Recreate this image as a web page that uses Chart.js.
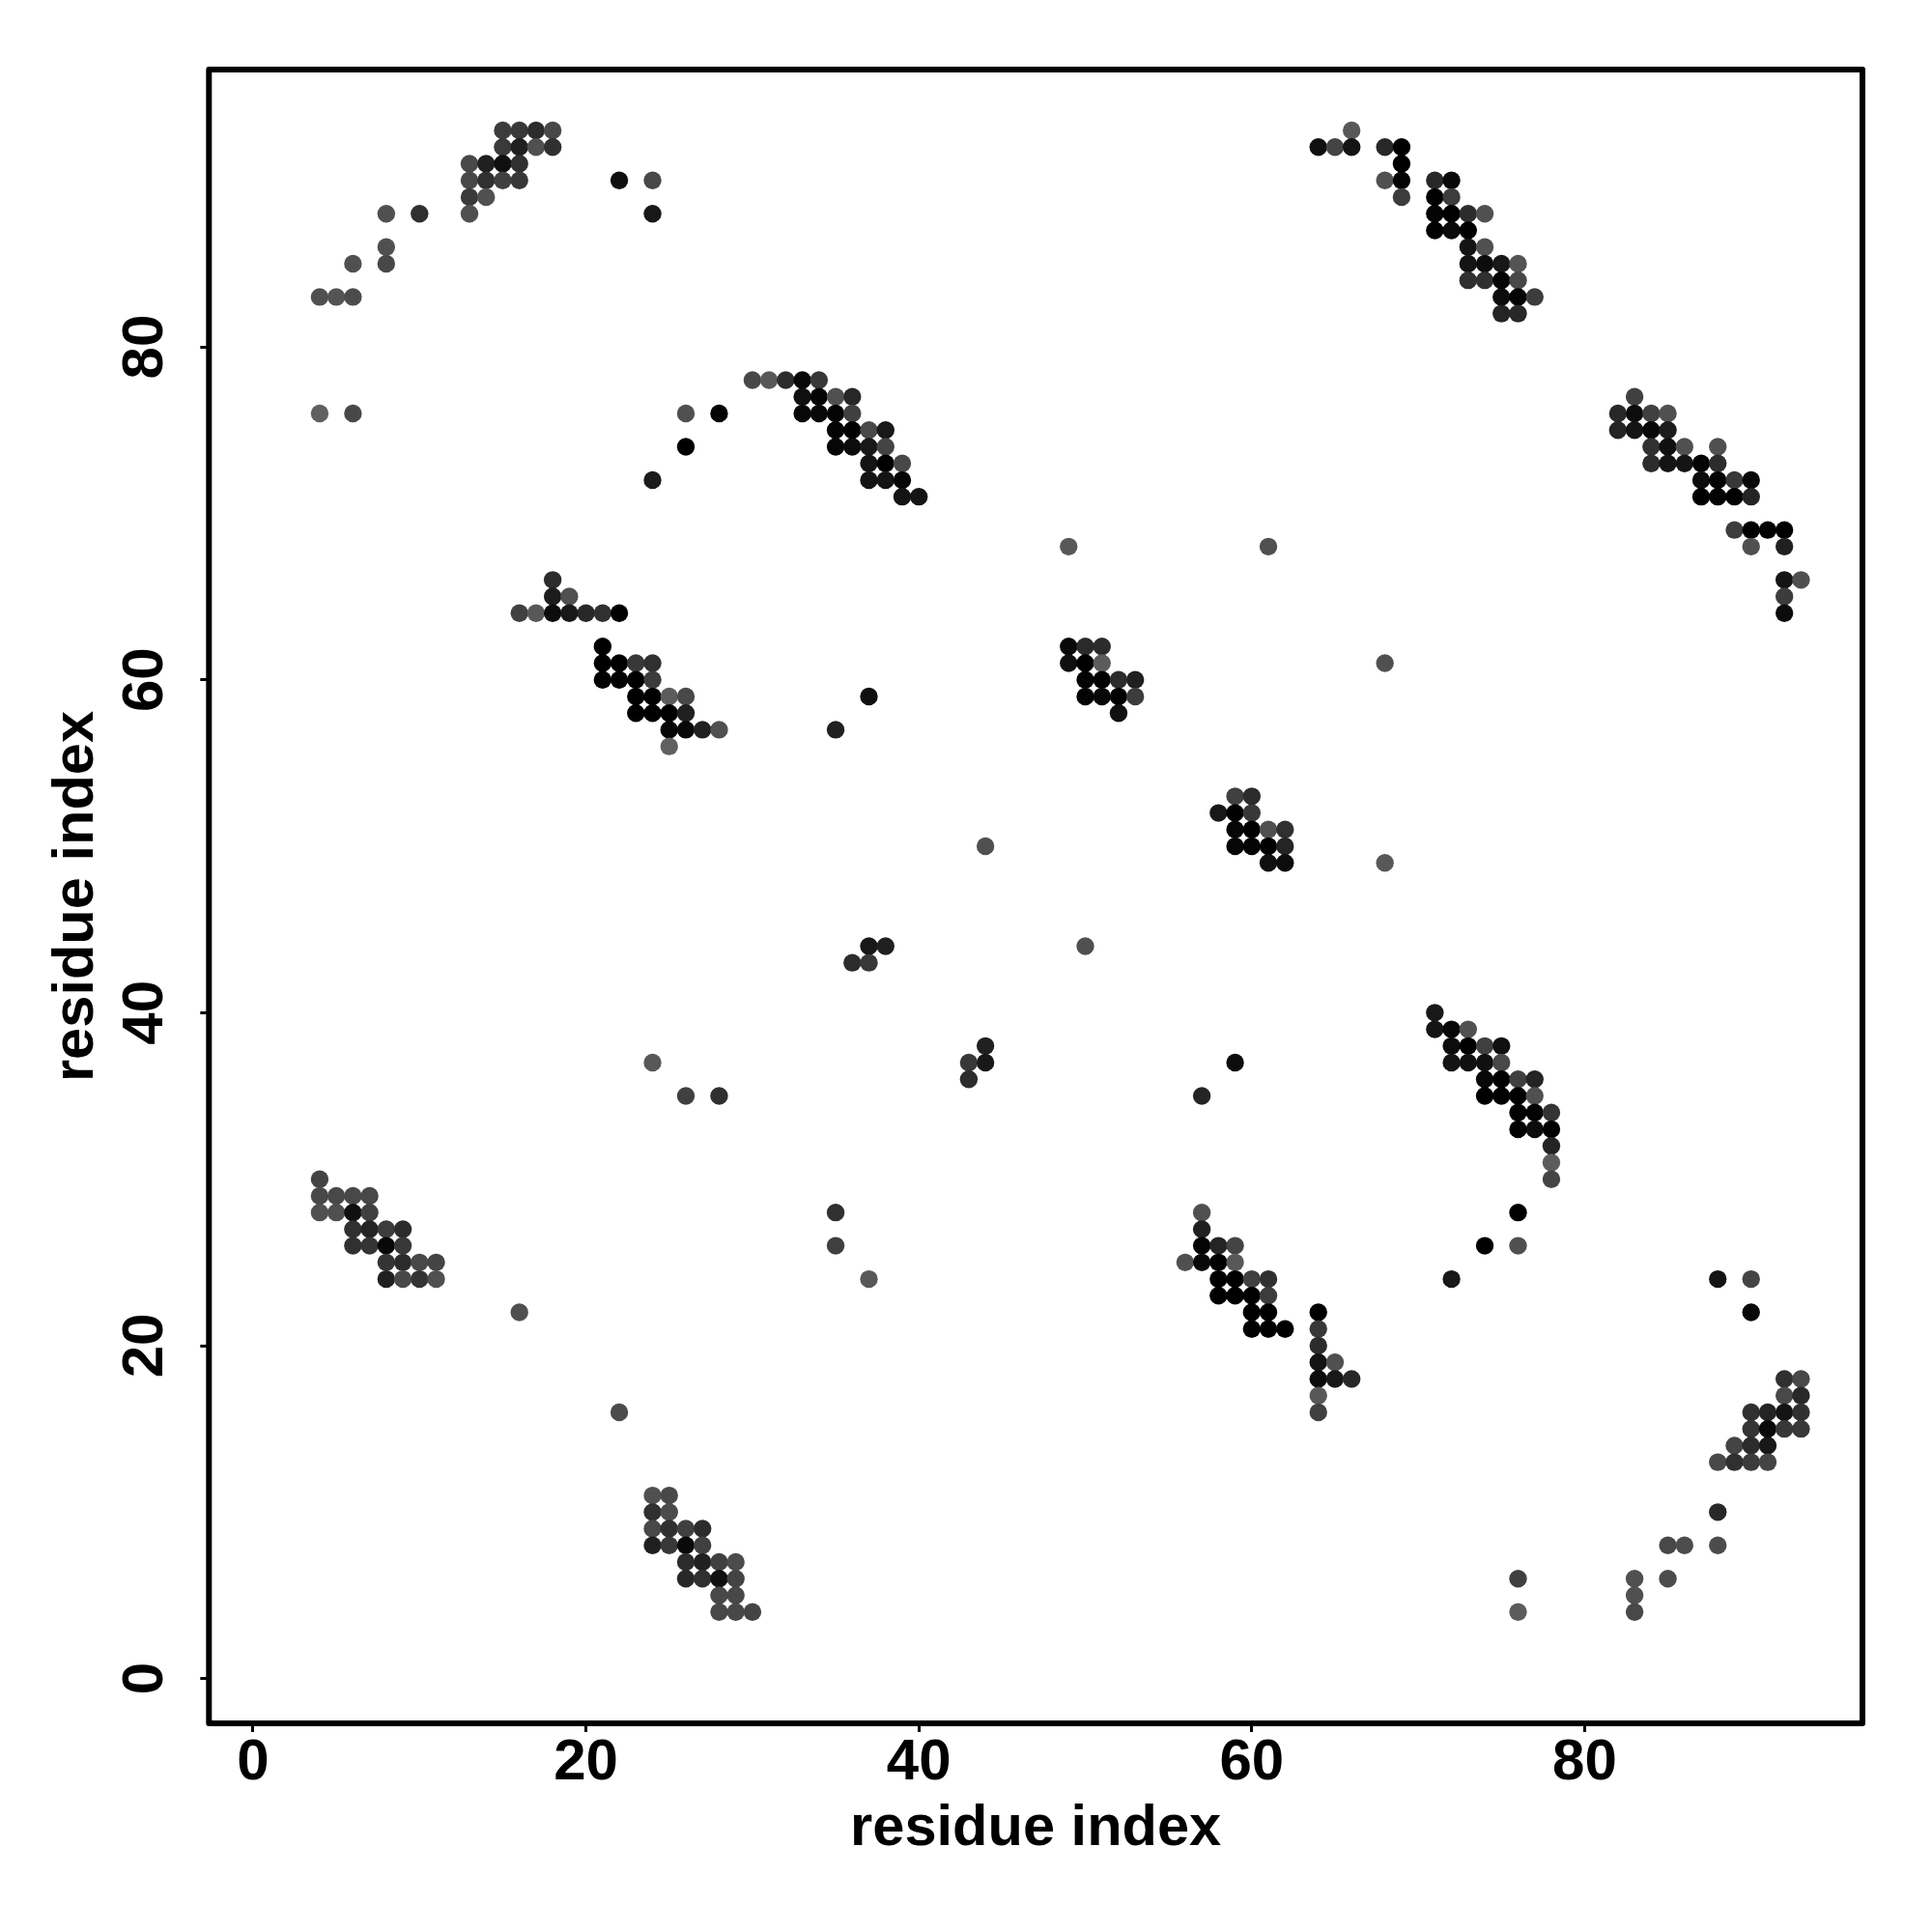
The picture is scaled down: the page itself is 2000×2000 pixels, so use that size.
<!DOCTYPE html>
<html>
<head>
<meta charset="utf-8">
<style>html,body{margin:0;padding:0;background:#fff}canvas{display:block}</style>
<script src="https://cdn.jsdelivr.net/npm/chart.js@4/dist/chart.umd.min.js"></script>
</head>
<body>
<canvas id="c" width="2000" height="2000"></canvas>
<script>
const tickValues = [0, 20, 40, 60, 80];
const axisTitle = "residue index";
// residue index on the vertical axis, one entry per row of contacts
const rowY = [93,92,91,90,89,88,87,86,85,84,83,82,78,77,76,75,74,73,72,71,69,68,66,65,64,62,61,60,59,58,57,56,53,52,51,50,49,44,43,40,39,38,37,36,35,34,33,32,31,30,29,28,27,26,25,24,23,22,21,20,19,18,17,16,15,14,13,11,10,9,8,7,6,5,4];
// residue index on the horizontal axis, for each row
const rowX = [
[15,16,17,18,66],
[15,16,17,18,64,65,66,68,69],
[13,14,15,16,69],
[13,14,15,16,22,24,68,69,71,72],
[13,14,69,71,72],
[8,10,13,24,71,72,73,74],
[71,72,73],
[8,73,74],
[6,8,73,74,75,76],
[73,74,75,76],
[4,5,6,75,76,77],
[75,76],
[30,31,32,33,34],
[33,34,35,36,83],
[4,6,26,28,33,34,35,36,82,83,84,85],
[35,36,37,38,82,83,84,85],
[26,35,36,37,38,84,85,86,88],
[37,38,39,84,85,86,87,88],
[24,37,38,39,87,88,89,90],
[39,40,87,88,89,90],
[89,90,91,92],
[49,61,90,92],
[18,92,93],
[18,19,92],
[16,17,18,19,20,21,22,92],
[21,49,50,51],
[21,22,23,24,49,50,51,68],
[21,22,23,24,50,51,52,53],
[23,24,25,26,37,50,51,52,53],
[23,24,25,26,52],
[25,26,27,28,35],
[25],
[59,60],
[58,59,60],
[59,60,61,62],
[44,59,60,61,62],
[61,62,68],
[37,38,50],
[36,37],
[71],
[71,72,73],
[44,72,73,74,75],
[24,43,44,59,72,73,74,75],
[43,74,75,76,77],
[26,28,57,74,75,76,77],
[76,77,78],
[76,77,78],
[78],
[78],
[4,78],
[4,5,6,7],
[4,5,6,7,35,57,76],
[6,7,8,9,57],
[6,7,8,9,35,57,58,59,74,76],
[8,9,10,11,56,57,58,59],
[8,9,10,11,37,58,59,60,61,72,88,90],
[58,59,60,61],
[16,60,61,64,90],
[60,61,62,64],
[64],
[64,65],
[64,65,66,92,93],
[64,92,93],
[22,64,90,91,92,93],
[90,91,92,93],
[89,90,91],
[88,89,90,91],
[24,25],
[24,25,88],
[24,25,26,27],
[24,25,26,27,85,86,88],
[26,27,28,29],
[26,27,28,29,76,83,85],
[28,29,83],
[28,29,30,76,83]
];
// grey level of each contact, same layout as rowX
const rowGrey = [
[0x3c,0x38,0x2c,0x48,0x58],
[0x3a,0x20,0x50,0x30,0x10,0x44,0x14,0x28,0x00],
[0x48,0x20,0x10,0x30,0x00],
[0x48,0x30,0x40,0x38,0x10,0x48,0x50,0x04,0x28,0x08],
[0x3a,0x50,0x3c,0x00,0x3c],
[0x50,0x30,0x50,0x18,0x04,0x00,0x2c,0x50],
[0x00,0x0a,0x00],
[0x50,0x14,0x50],
[0x50,0x48,0x14,0x0c,0x18,0x54],
[0x30,0x30,0x04,0x48],
[0x50,0x54,0x4c,0x0c,0x04,0x3c],
[0x24,0x28],
[0x48,0x58,0x2c,0x08,0x38],
[0x10,0x04,0x50,0x28,0x40],
[0x60,0x48,0x50,0x04,0x08,0x08,0x04,0x40,0x28,0x0c,0x40,0x50],
[0x04,0x00,0x48,0x18,0x24,0x14,0x08,0x1c],
[0x00,0x06,0x0c,0x18,0x44,0x30,0x10,0x50,0x50],
[0x14,0x00,0x48,0x2c,0x14,0x14,0x04,0x2c],
[0x1c,0x14,0x14,0x06,0x0c,0x04,0x38,0x08],
[0x14,0x14,0x00,0x04,0x00,0x24],
[0x3c,0x00,0x02,0x00],
[0x58,0x50,0x50,0x20],
[0x2c,0x14,0x50],
[0x1c,0x50,0x3c],
[0x40,0x58,0x0c,0x18,0x28,0x30,0x00,0x0c],
[0x00,0x08,0x2a,0x2c],
[0x00,0x00,0x38,0x30,0x10,0x00,0x5c,0x50],
[0x02,0x02,0x00,0x3c,0x04,0x00,0x2c,0x20],
[0x00,0x00,0x5c,0x48,0x10,0x04,0x08,0x00,0x3c],
[0x00,0x00,0x00,0x20,0x10],
[0x06,0x08,0x20,0x50,0x20],
[0x60],
[0x40,0x2c],
[0x18,0x00,0x38],
[0x06,0x00,0x50,0x30],
[0x50,0x06,0x04,0x00,0x24],
[0x10,0x0c,0x58],
[0x18,0x20,0x50],
[0x2c,0x38],
[0x18],
[0x14,0x08,0x50],
[0x20,0x0c,0x00,0x40,0x10],
[0x58,0x38,0x18,0x0c,0x14,0x10,0x10,0x48],
[0x2c,0x08,0x00,0x40,0x24],
[0x40,0x30,0x24,0x00,0x00,0x00,0x50],
[0x02,0x02,0x34],
[0x00,0x0c,0x00],
[0x24],
[0x5c],
[0x44,0x44],
[0x48,0x48,0x48,0x48],
[0x50,0x50,0x10,0x40,0x30,0x50,0x00],
[0x30,0x24,0x3c,0x2c,0x20],
[0x30,0x34,0x08,0x38,0x40,0x04,0x24,0x44,0x00,0x50],
[0x34,0x2c,0x48,0x44,0x50,0x08,0x00,0x58],
[0x20,0x48,0x34,0x50,0x58,0x00,0x00,0x40,0x30,0x18,0x14,0x44],
[0x00,0x00,0x00,0x3c],
[0x50,0x00,0x00,0x00,0x08],
[0x00,0x00,0x00,0x38],
[0x2c],
[0x14,0x50],
[0x0c,0x18,0x28,0x30,0x48],
[0x58,0x48,0x28],
[0x4c,0x40,0x30,0x24,0x14,0x30],
[0x34,0x0a,0x38,0x38],
[0x44,0x2c,0x18],
[0x48,0x30,0x3c,0x44],
[0x50,0x48],
[0x30,0x4c,0x28],
[0x48,0x30,0x40,0x2c],
[0x20,0x38,0x0a,0x40,0x48,0x4c,0x4c],
[0x2c,0x20,0x40,0x4c],
[0x28,0x30,0x10,0x44,0x40,0x50,0x4c],
[0x48,0x48,0x50],
[0x48,0x48,0x44,0x5c,0x48]
];

const points = [], colors = [];
rowY.forEach((y, r) => rowX[r].forEach((x, k) => {
  points.push({x, y});
  const g = rowGrey[r][k];
  colors.push(`rgb(${g},${g},${g})`);
}));

const FONT = '"Liberation Sans", Arial, Helvetica, sans-serif';
const tickFont = {family: FONT, weight: 'bold', size: 60};
const titleFont = {family: FONT, weight: 'bold', size: 59.6};
const setTicks = s => { s.ticks = tickValues.map(v => ({value: v})); };

const framePlugin = {
  id: 'frame',
  afterDraw(chart) {
    const {ctx, chartArea: a} = chart;
    ctx.save();
    ctx.strokeStyle = '#000';
    ctx.lineWidth = 6;
    ctx.lineJoin = 'round';
    ctx.strokeRect(a.left, a.top, a.right - a.left, a.bottom - a.top);
    ctx.restore();
  }
};

new Chart(document.getElementById('c'), {
  type: 'scatter',
  data: {datasets: [{
    data: points,
    pointBackgroundColor: colors,
    pointBorderWidth: 0,
    pointRadius: 9.2,
    pointHoverRadius: 9.2,
    showLine: false
  }]},
  plugins: [framePlugin],
  options: {
    responsive: false,
    animation: false,
    events: [],
    layout: {padding: {top: 72, right: 72, left: 0, bottom: 0}},
    plugins: {legend: {display: false}, tooltip: {enabled: false}, title: {display: false}},
    scales: {
      x: {
        type: 'linear', min: -2.652, max: 96.69,
        afterBuildTicks: setTicks,
        afterFit: s => { s.height = 216; },
        border: {display: false},
        grid: {drawOnChartArea: false, drawTicks: true, tickLength: 9, tickWidth: 3, tickColor: '#000'},
        ticks: {color: '#000', font: tickFont, padding: -4, maxRotation: 0, minRotation: 0, autoSkip: false},
        title: {display: true, text: axisTitle, color: '#000', font: titleFont, padding: {top: 0, bottom: 70.5}}
      },
      y: {
        type: 'linear', min: -2.69, max: 96.66,
        afterBuildTicks: setTicks,
        afterFit: s => { s.width = 216.3; },
        border: {display: false},
        grid: {drawOnChartArea: false, drawTicks: true, tickLength: 9, tickWidth: 3, tickColor: '#000'},
        ticks: {color: '#000', font: tickFont, padding: 22.5, minRotation: 90, maxRotation: 90, crossAlign: 'center', autoSkip: false},
        title: {display: true, text: axisTitle, color: '#000', font: titleFont, padding: {top: 44, bottom: 0}}
      }
    }
  }
});
</script>
</body>
</html>
